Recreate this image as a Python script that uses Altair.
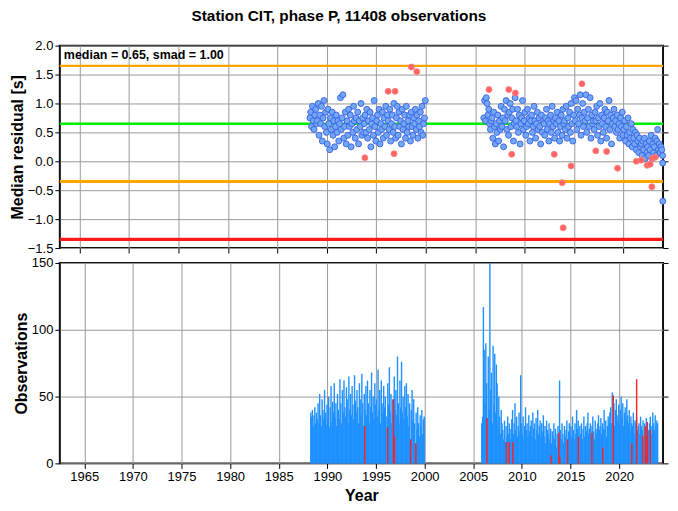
import altair as alt
import pandas as pd

# ---------------- data ----------------
title_text = "Station CIT, phase P, 11408 observations"
median_val = 0.65
smad_val = 1.00

year_ticks = [1965, 1970, 1975, 1980, 1985, 1990, 1995, 2000, 2005, 2010, 2015, 2020]
resid_ticks = [-1.5, -1.0, -0.5, 0.0, 0.5, 1.0, 1.5, 2.0]
count_ticks = [0, 50, 100, 150]

# period 1: monthly bins starting April 1988
p1_start = 1988.25
p1_resid = [
    0.75, 0.85, 0.6, 0.95, 0.7, 0.55, 0.8, 0.9, 0.65,
    0.7, 1.0, 0.45, 0.8, 0.65, 0.95, 0.35, 0.75, 1.05, 0.6, 0.85, 0.5,
    0.3, 0.9, 0.65, 0.2, 0.75, 0.55, 0.85, 0.45, 0.7, 0.25, 0.6, 0.8,
    0.5, 0.7, 0.35, 0.65, 1.1, 0.55, 0.75, 1.15, 0.4, 0.6, 0.85, 0.3,
    0.7, 0.45, 0.9, 0.6, 0.8, 0.25, 0.65, 0.5, 0.95, 0.7, 0.4, 0.75,
    0.55, 0.85, 0.3, 0.7, 0.6, 1.0, 0.45, 0.75, 0.5, 0.65, 0.8, 0.5,
    0.9, 0.4, 0.7, 0.55, 0.85, 0.25, 0.65, 0.75, 0.45, 1.05, 0.6, 0.35,
    0.7, 0.8, 0.5, 0.9, 0.3, 0.65, 0.55, 0.85, 0.4, 0.75, 0.6, 0.95,
    0.45, 0.8, 0.7, 0.55, 0.9, 0.35, 0.65, 0.8, 0.5, 1.0, 0.6, 0.4,
    0.75, 0.95, 0.45, 0.85, 0.6, 0.7, 0.3, 0.9, 0.55, 0.65, 0.8, 0.4,
    0.95, 0.5, 0.7, 0.6, 0.8, 0.35, 0.85, 0.6, 0.45, 0.75, 0.65, 0.9,
    0.55, 0.8, 0.4, 0.7, 0.6, 0.85, 0.5, 0.95, 0.45, 0.65, 0.75, 1.05,
]
p1_counts = [
    38, 35, 40, 28, 36, 42, 30, 38, 33,
    45, 30, 52, 36, 28, 48, 40, 33, 55, 38, 29, 44,
    35, 50, 27, 42, 58, 31, 46, 38, 60, 34, 45, 28,
    52, 40, 33, 63, 45, 30, 55, 38, 62, 42, 35, 57,
    48, 30, 65, 40, 52, 36, 58, 44, 33, 66, 47, 38,
    55, 42, 30, 60, 48, 35, 67, 45, 28, 52, 40, 58,
    36, 62, 45, 30, 55, 42, 68, 38, 50, 33, 60, 44,
    48, 35, 70, 40, 55, 30, 62, 45, 38, 58, 42, 50,
    35, 27, 60, 44, 72, 38, 52, 30, 48, 20, 65, 40,
    55, 36, 80, 45, 30, 62, 42, 76, 38, 50, 33, 58,
    42, 60, 35, 52, 28, 45, 18, 40, 55, 32, 48, 30,
    15, 38, 25, 42, 30, 20, 36, 28, 40, 22, 33, 35,
]

# period 2: monthly bins starting November 2005
p2_start = 2005.8333
p2_resid = [
    0.75, 1.05,
    0.7, 1.1, 1.0, 0.8, 0.9, 0.65, 0.55, 0.7, 0.75, 0.4, 0.85, 0.6,
    0.3, 0.65, 0.5, 0.8, 0.35, 0.7, 0.55, 0.95, 0.6, 0.75, 0.25, 0.9,
    0.7, 1.05, 0.55, 0.8, 0.45, 0.85, 1.0, 0.6, 0.75, 0.9, 0.35, 0.65,
    1.1, 0.7, 0.6, 0.9, 0.5, 0.8, 0.3, 0.65, 0.75, 1.05, 0.55, 0.7,
    0.85, 0.45, 0.6, 0.9, 0.65, 0.75, 0.35, 0.7, 0.8, 0.5, 0.6, 0.95,
    0.7, 0.4, 0.65, 0.85, 0.55, 0.75, 0.6, 0.3, 0.8, 0.5, 0.7, 0.65,
    0.45, 0.75, 0.9, 0.55, 0.7, 0.35, 0.65, 0.8, 0.5, 0.95, 0.6, 0.7,
    0.4, 0.75, 0.65, 0.85, 0.5, 0.7, 0.35, 0.6, 0.8, 0.45, 0.9, 0.65,
    0.7, 0.55, 0.95, 0.4, 0.75, 0.6, 0.85, 0.5, 1.0, 0.65, 0.35, 0.8,
    1.1, 0.7, 1.05, 0.55, 0.9, 0.65, 0.8, 1.15, 0.45, 0.75, 1.0, 0.6,
    0.85, 0.7, 1.15, 0.5, 0.75, 0.9, 0.6, 1.1, 0.4, 0.8, 0.65, 0.7,
    0.55, 0.85, 0.7, 0.95, 0.45, 0.75, 0.6, 1.0, 0.35, 0.8, 0.65, 0.5,
    0.75, 0.9, 0.6, 0.4, 0.85, 0.7, 1.05, 0.55, 0.8, 0.3, 0.65, 0.75,
    0.9, 0.6, 0.7, 0.5, 0.8, 0.55, 0.65, 0.4, 0.75, 0.6, 0.85, 0.45,
    0.55, 0.7, 0.35, 0.6, 0.45, 0.75, 0.3, 0.5, 0.4, 0.65, 0.25, 0.55,
    0.4, 0.3, 0.5, 0.2, 0.45, 0.35, 0.15, 0.4, 0.25, 0.3, 0.1, 0.35,
    0.2, 0.4, 0.05, 0.3, 0.15, 0.25, 0.1, 0.35, 0.2, 0.45, 0.05, 0.3,
    0.15, 0.25, 0.4, 0.1, 0.35, 0.55, 0.2, 0.3, 0.15, 0.25, 0.2, 0.1,
]
p2_counts = [
    30, 35,
    117, 85, 45, 90, 60, 34, 80, 40, 150, 55, 68, 30,
    88, 45, 82, 38, 74, 60, 28, 50, 35, 22, 40, 30,
    25, 18, 32, 16, 28, 20, 35, 22, 30, 18, 26, 33,
    40, 22, 30, 45, 25, 35, 20, 28, 38, 24, 66, 30,
    22, 35, 18, 28, 42, 25, 30, 20, 36, 24, 28, 32,
    20, 38, 26, 30, 18, 34, 25, 40, 22, 28, 32, 20,
    30, 24, 36, 20, 28, 15, 32, 25, 22, 30, 18, 26,
    15, 24, 20, 30, 18, 26, 12, 22, 28, 20, 62, 25,
    18, 30, 22, 15, 28, 20, 25, 32, 18, 24, 30, 22,
    28, 20, 35, 25, 18, 30, 22, 40, 26, 32, 20, 28,
    22, 30, 18, 26, 35, 20, 28, 24, 30, 38, 22, 26,
    30, 20, 28, 35, 24, 18, 32, 26, 22, 30, 36, 25,
    28, 34, 22, 30, 26, 40, 25, 32, 20, 28, 35, 30,
    38, 42, 30, 53, 35, 45, 28, 40, 48, 32, 36, 44,
    30, 40, 50, 35, 45, 28, 38, 42, 32, 48, 36, 30,
    40, 25, 35, 30, 28, 38, 22, 32, 30, 35, 25, 28,
    30, 22, 35, 28, 25, 32, 20, 30, 26, 34, 28, 22,
    25, 30, 35, 22, 28, 38, 30, 25, 36, 28, 32, 30,
]

# last two points on the right edge
edge_years = [2023.97, 2023.98]
edge_resid = [-0.03, -0.69]

# outlier bins (red points / red bars)
red_years = [1993.85, 1996.2, 1996.8, 1996.9, 1998.55, 1999.1,
             2006.4, 2008.4, 2008.7, 2009.07, 2013.0, 2013.8, 2013.9, 2014.7,
             2015.8, 2017.2, 2018.3, 2019.4, 2021.3, 2021.8, 2022.4, 2022.7,
             2022.87, 2022.9, 2023.2]
red_resid = [0.06, 1.21, 0.13, 1.21, 1.63, 1.55,
             1.24, 1.24, 0.12, 1.18, 0.12, -0.37, -1.15, -0.08,
             1.34, 0.18, 0.17, -0.12, 0.0, 0.02, -0.07, -0.05,
             -0.44, 0.05, 0.07]
red_counts = [28, 27, 48, 20, 18, 15,
              34, 16, 16, 16, 6, 23, 5, 18,
              20, 23, 12, 51, 15, 63, 21, 28,
              20, 31, 25]

levels = [median_val + smad_val, median_val, median_val - smad_val, median_val - 2 * smad_val]
level_kind = ["plus1", "median", "minus1", "minus2"]

# ---------------- tables ----------------
p1_years = [p1_start + (i + 0.5) / 12 for i in range(len(p1_resid))]
p2_years = [p2_start + (i + 0.5) / 12 for i in range(len(p2_resid))]
blue_df = pd.DataFrame({"year": p1_years + p2_years + edge_years,
                        "val": p1_resid + p2_resid + edge_resid})
red_df = pd.DataFrame({"year": red_years, "val": red_resid, "count": red_counts})
bars_df = pd.DataFrame({"year": p1_years + p2_years, "count": p1_counts + p2_counts})
lines_df = pd.DataFrame({"val": levels, "kind": level_kind})
note_df = pd.DataFrame({"t": [f"median = {median_val:.2f}, smad = {smad_val:.2f}"]})

FONT = "Liberation Sans"
W, H1, H2 = 605, 203, 201

xs = alt.Scale(domain=[1963, 2024], nice=False, zero=False)
ys_top = alt.Scale(domain=[-1.5, 2.0], nice=False, zero=False)
ys_bot = alt.Scale(domain=[0, 150], nice=False, zero=False)

x_axis_top = alt.Axis(values=year_ticks, labels=False, title=None, grid=True)
x_axis_bot = alt.Axis(values=year_ticks, format="d", title="Year", grid=True,
                      labelPadding=2, titlePadding=4)

# ---------------- top panel ----------------
lines = alt.Chart(lines_df).mark_rule().encode(
    y=alt.Y("val:Q", scale=ys_top,
            axis=alt.Axis(orient="left", values=resid_ticks, format=".1f",
                          title="Median residual [s]", grid=True, titlePadding=2)),
    color=alt.Color("kind:N", scale=alt.Scale(domain=level_kind,
                    range=["#ffa500", "#00ee00", "#ffa500", "#ff1a1a"]), legend=None),
    strokeWidth=alt.StrokeWidth("kind:N", scale=alt.Scale(domain=level_kind,
                                range=[2.2, 3.2, 2.2, 2.2]), legend=None),
)

blue_pts = alt.Chart(blue_df).mark_point(
    shape="circle", filled=True, size=36, fill="#70a8f4", stroke="#3b5fe6",
    strokeWidth=0.9, opacity=1
).encode(
    x=alt.X("year:Q", scale=xs, axis=x_axis_top),
    y=alt.Y("val:Q", scale=ys_top, axis=None),
)

red_pts = alt.Chart(red_df).mark_point(
    shape="circle", filled=True, size=36, fill="#ff6464", stroke="#ff8080",
    strokeWidth=0.9, opacity=1
).encode(
    x=alt.X("year:Q", scale=xs, axis=x_axis_top),
    y=alt.Y("val:Q", scale=ys_top, axis=None),
)

note = alt.Chart(note_df).mark_text(
    align="left", baseline="middle", font=FONT, fontSize=12.5, fontWeight="bold", color="black"
).encode(x=alt.value(4), y=alt.value(9), text="t:N")

right_top = alt.Chart(lines_df).mark_rule(opacity=0).encode(
    y=alt.Y("val:Q", scale=ys_top,
            axis=alt.Axis(orient="right", values=resid_ticks, labels=False,
                          title=None, grid=False)),
)

top = alt.layer(lines, blue_pts, red_pts, note, right_top).resolve_axis(
    y="independent").properties(width=W, height=H1)

# ---------------- bottom panel ----------------
bars = alt.Chart(bars_df).mark_bar(size=1.4, color="#1e90ff").encode(
    x=alt.X("year:Q", scale=xs, axis=x_axis_bot),
    y=alt.Y("count:Q", scale=ys_bot,
            axis=alt.Axis(orient="left", values=count_ticks, title="Observations",
                          grid=True, titlePadding=2)),
)
red_bars = alt.Chart(red_df).mark_bar(size=1.4, color="#ff2020").encode(
    x=alt.X("year:Q", scale=xs, axis=x_axis_bot),
    y=alt.Y("count:Q", scale=ys_bot, axis=None),
)
right_bot = alt.Chart(pd.DataFrame({"count": count_ticks})).mark_rule(opacity=0).encode(
    y=alt.Y("count:Q", scale=ys_bot,
            axis=alt.Axis(orient="right", values=count_ticks, labels=False,
                          title=None, grid=False)),
)
bottom = alt.layer(bars, red_bars, right_bot).resolve_axis(
    y="independent").properties(width=W, height=H2)

chart = alt.vconcat(top, bottom, spacing=0).properties(
    title=alt.Title(title_text, font=FONT, fontSize=15.4, fontWeight="bold",
                    anchor="middle", dx=0, offset=14, color="black"),
    padding={"left": 0, "top": 0, "right": 0, "bottom": 0},
).configure_view(
    stroke="#111111", strokeWidth=2
).configure_axis(
    labelFont=FONT, labelFontSize=13, labelColor="black",
    titleFont=FONT, titleFontSize=16, titleFontWeight="bold", titleColor="black",
    domain=False, tickColor="black", tickSize=5, tickWidth=1,
    gridColor="#9a9a9a", gridWidth=1, gridOpacity=1, labelPadding=2,
)

chart.save("out.html", embed_options={"renderer": "svg", "actions": False})
